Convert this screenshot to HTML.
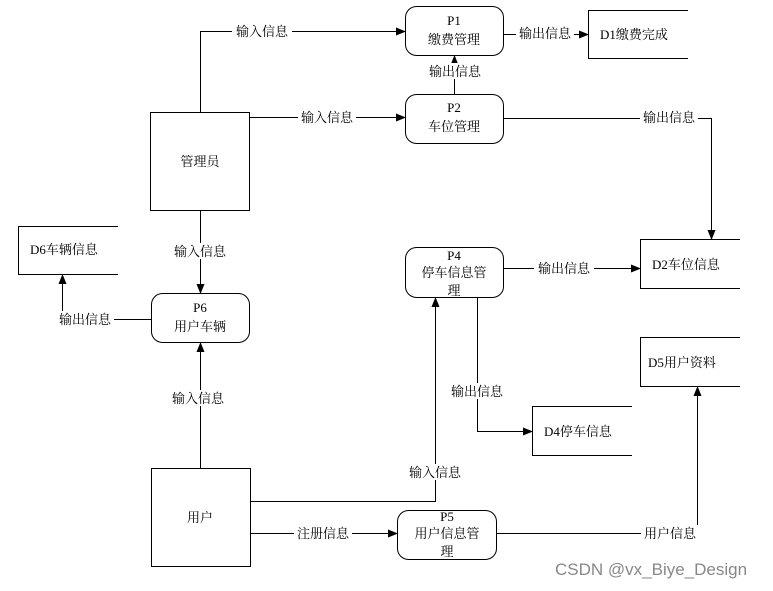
<!DOCTYPE html>
<html><head><meta charset="utf-8"><style>
body{margin:0;background:#fff;}
text{font-family:"Liberation Serif","Noto Serif CJK SC","Noto Sans CJK SC",serif;font-size:13px;fill:#000;}
</style></head><body>
<svg width="773" height="586" viewBox="0 0 773 586" xmlns="http://www.w3.org/2000/svg">
<defs><marker id="a" markerWidth="10" markerHeight="8" refX="9" refY="4" orient="auto" markerUnits="userSpaceOnUse"><path d="M0,0 L10,4 L0,8z" fill="#000"/></marker></defs>
<g fill="none" stroke="#000" stroke-width="1">
<rect x="150.5" y="112.5" width="99" height="98"/>
<rect x="151.5" y="468.5" width="99" height="98"/>
<rect x="405.5" y="6.5" width="98" height="49" rx="11"/>
<rect x="405.5" y="94.5" width="98" height="49" rx="11"/>
<rect x="405.5" y="247.5" width="98" height="50" rx="11"/>
<rect x="151.5" y="293.5" width="98" height="49" rx="11"/>
<rect x="397.5" y="510.5" width="99" height="49" rx="11"/>
<path d="M688,10.5H588.5V58.5H688"/>
<path d="M740,239.5H640.5V288.5H740"/>
<path d="M118,226.5H18.5V274.5H118"/>
<path d="M740,337.5H640.5V386.5H740"/>
<path d="M632,406.5H532.5V455.5H632"/>
<path d="M200.5,112V31.5H405" marker-end="url(#a)"/>
<path d="M250,117.5H405" marker-end="url(#a)"/>
<path d="M454.5,94V56" marker-end="url(#a)"/>
<path d="M504,34.5H588" marker-end="url(#a)"/>
<path d="M504,118.5H711.5V239" marker-end="url(#a)"/>
<path d="M200.5,211V293" marker-end="url(#a)"/>
<path d="M151,319.5H62.5V275" marker-end="url(#a)"/>
<path d="M200.5,468V343" marker-end="url(#a)"/>
<path d="M251,501.5H435.5V298" marker-end="url(#a)"/>
<path d="M477.5,298V431.5H532" marker-end="url(#a)"/>
<path d="M504,268.5H640" marker-end="url(#a)"/>
<path d="M251,533.5H397" marker-end="url(#a)"/>
<path d="M497,533.5H697.5V387" marker-end="url(#a)"/>
</g>
<g text-anchor="middle">
<g fill="#fff">
<rect x="232" y="23" width="60" height="16" fill="#fff"/>
<rect x="298" y="110" width="58" height="16" fill="#fff"/>
<rect x="425" y="63" width="60" height="16" fill="#fff"/>
<rect x="516" y="26" width="58" height="16" fill="#fff"/>
<rect x="640" y="110" width="58" height="16" fill="#fff"/>
<rect x="170" y="243" width="60" height="16" fill="#fff"/>
<rect x="56" y="311" width="58" height="16" fill="#fff"/>
<rect x="168" y="390" width="60" height="16" fill="#fff"/>
<rect x="405" y="464" width="60" height="16" fill="#fff"/>
<rect x="447" y="383" width="60" height="16" fill="#fff"/>
<rect x="534" y="260" width="60" height="16" fill="#fff"/>
<rect x="294" y="525" width="58" height="16" fill="#fff"/>
<rect x="641" y="525" width="58" height="16" fill="#fff"/>
</g>
<text x="262" y="36">输入信息</text>
<text x="327" y="122">输入信息</text>
<text x="455" y="76">输出信息</text>
<text x="545" y="38">输出信息</text>
<text x="669" y="122">输出信息</text>
<text x="200" y="256">输入信息</text>
<text x="85" y="324">输出信息</text>
<text x="198" y="403">输入信息</text>
<text x="435" y="477">输入信息</text>
<text x="477" y="396">输出信息</text>
<text x="564" y="273">输出信息</text>
<text x="323" y="538">注册信息</text>
<text x="670" y="538">用户信息</text>
<text x="200" y="166">管理员</text>
<text x="200" y="522">用户</text>
<text x="454" y="25">P1</text><text x="454" y="44">缴费管理</text>
<text x="454" y="112">P2</text><text x="454" y="131">车位管理</text>
<text x="454" y="260">P4</text><text x="454" y="277">停车信息管</text><text x="454" y="295">理</text>
<text x="200" y="312">P6</text><text x="200" y="331">用户车辆</text>
<text x="447" y="521">P5</text><text x="447" y="538">用户信息管</text><text x="447" y="556">理</text>
</g>
<text x="600" y="39">D1缴费完成</text>
<text x="652" y="269">D2车位信息</text>
<text x="30" y="254">D6车辆信息</text>
<text x="648" y="367">D5用户资料</text>
<text x="544" y="436">D4停车信息</text>
<text x="555" y="575" style="font-family:'Liberation Sans',sans-serif;font-size:17px;fill:#888">CSDN @vx_Biye_Design</text>
</svg>
</body></html>
